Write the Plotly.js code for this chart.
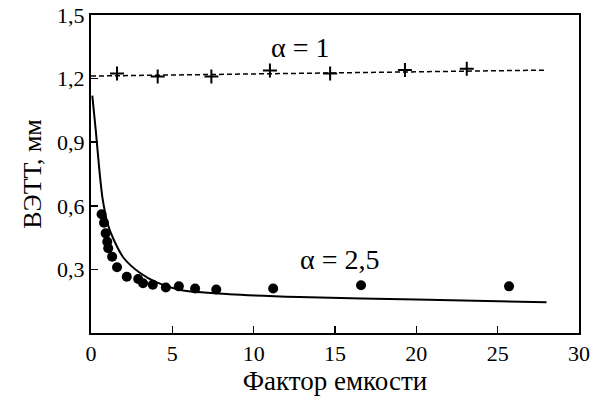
<!DOCTYPE html>
<html>
<head>
<meta charset="utf-8">
<script src="https://cdn.plot.ly/plotly-3.0.1.min.js"></script>
<style>
html,body{margin:0;padding:0;background:#fff;}
#chart{width:591px;height:405px;}
#pre{position:absolute;left:0;top:0;font-family:'Liberation Serif';font-size:2px;color:#fff;}
</style>
</head>
<body>
<div id="pre">Фактор ВЭТТ α 0,3 1,5</div>
<div id="chart"></div>
<script>
// alpha = 1 : measured points (crosses) and fitted dashed line
const a1X = [1.6, 4.1, 7.4, 11.0, 14.7, 19.3, 23.1];
const a1Y = [1.224, 1.21, 1.21, 1.238, 1.224, 1.24, 1.247];
const a1LineX = [0, 5, 10, 15, 20, 25, 27.9];
const a1LineY = [1.212, 1.216, 1.221, 1.227, 1.232, 1.237, 1.24];

// alpha = 2.5 : measured points (dots) and fitted solid curve
const a25X = [0.65, 0.8, 0.9, 1.0, 1.06, 1.3, 1.6, 2.2, 2.9, 3.2, 3.8, 4.6, 5.4, 6.4, 7.7, 11.2, 16.6, 25.7];
const a25Y = [0.56, 0.52, 0.47, 0.43, 0.40, 0.36, 0.31, 0.265, 0.255, 0.235, 0.228, 0.215, 0.22, 0.21, 0.205, 0.21, 0.225, 0.22];
const a25CurveX = [0.08, 0.3, 0.5, 0.7, 0.9, 1.0, 1.4, 2.0, 3.0, 4.0, 5.5, 8.5, 12.8, 20, 28];
const a25CurveY = [1.12, 0.95, 0.78, 0.64, 0.555, 0.52, 0.44, 0.355, 0.284, 0.24, 0.203, 0.183, 0.17, 0.158, 0.145];

const xTicks = [0, 5, 10, 15, 20, 25, 30];
const yTicks = [0.3, 0.6, 0.9, 1.2, 1.5];
const yTickText = ['0,3', '0,6', '0,9', '1,2', '1,5'];

const traces = [
  {x: a1LineX, y: a1LineY, mode: 'lines', line: {color: '#000', width: 1.5, dash: '5px,3px'}},
  {x: a1X, y: a1Y, mode: 'markers', marker: {symbol: 'cross-thin', size: 10, line: {color: '#000', width: 2}}},
  {x: a25CurveX, y: a25CurveY, mode: 'lines', line: {color: '#000', width: 2, shape: 'spline', smoothing: 0.8}},
  {x: a25X, y: a25Y, mode: 'markers', marker: {symbol: 'circle', size: 10, color: '#000'}}
];

const layout = {
  width: 591, height: 405,
  margin: {l: 91, r: 12, t: 15, b: 72},
  showlegend: false,
  font: {family: 'Liberation Serif', color: '#000', size: 22},
  xaxis: {
    range: [0, 30], tickvals: xTicks,
    ticks: 'inside', ticklen: 7, tickwidth: 1.5, tickcolor: '#000',
    showline: true, linecolor: '#000', linewidth: 2, mirror: true,
    showgrid: false, zeroline: false,
    title: {text: 'Фактор емкости', font: {size: 27}, standoff: 2}
  },
  yaxis: {
    range: [0, 1.5], tickvals: yTicks, ticktext: yTickText,
    ticks: 'inside', ticklen: 7, tickwidth: 1.5, tickcolor: '#000',
    showline: true, linecolor: '#000', linewidth: 2, mirror: true,
    showgrid: false, zeroline: false,
    title: {text: 'ВЭТТ, мм', font: {size: 26}, standoff: 8}
  },
  annotations: [
    {x: 12.85, y: 1.345, text: 'α = 1', showarrow: false, font: {size: 28}},
    {x: 15.3, y: 0.347, text: 'α = 2,5', showarrow: false, font: {size: 28}}
  ]
};

function nudge() {
  const c = document.getElementById('chart');
  c.style.opacity = '0.999';
  requestAnimationFrame(function () { c.style.opacity = '1'; });
  document.getElementById('pre').textContent = 'Фактор ВЭТТ α 0,3 1,5 .';
}

Plotly.newPlot('chart', traces, layout, {staticPlot: true}).then(function () {
  nudge();
  if (document.fonts && document.fonts.load) {
    document.fonts.load('22px "Liberation Serif"', 'Фα0').then(function () {
      Plotly.react('chart', traces, layout, {staticPlot: true}).then(nudge);
    });
  }
});
</script>
</body>
</html>
